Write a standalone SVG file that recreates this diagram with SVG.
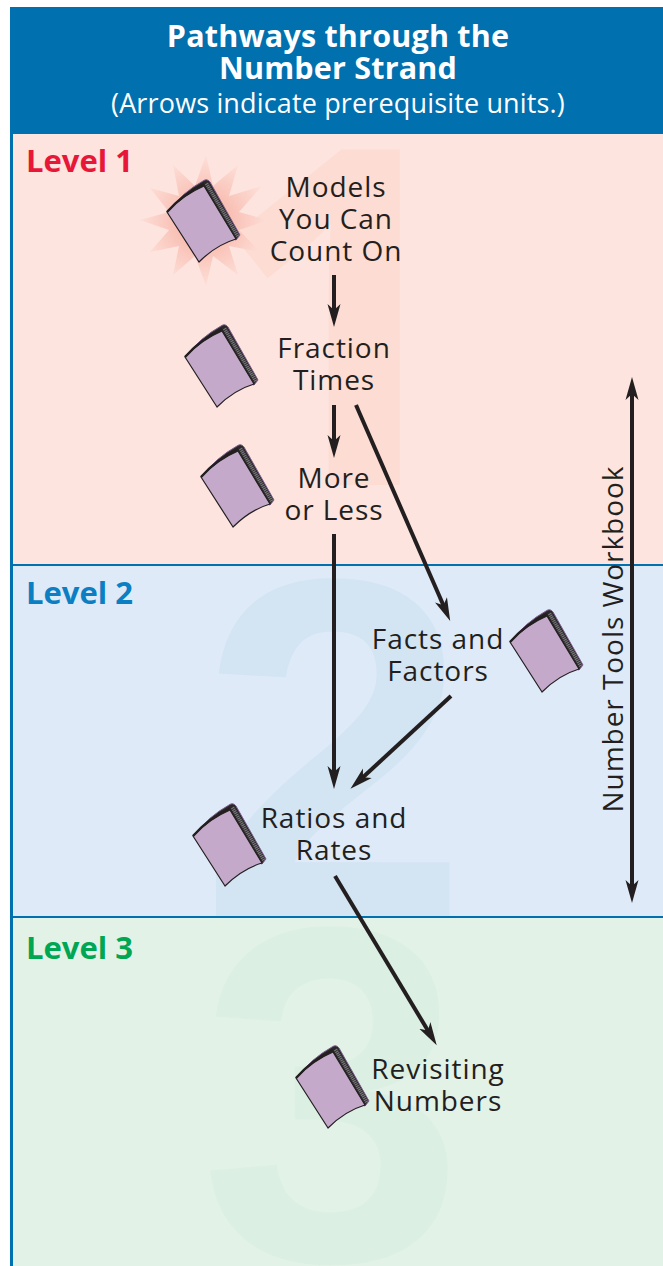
<svg xmlns="http://www.w3.org/2000/svg" width="663" height="1266" viewBox="0 0 663 1266">
<style>
.t{font-family:"Open Sans","Noto Sans","Liberation Sans",sans-serif;font-size:28px;fill:#231f20;text-anchor:middle;letter-spacing:.95px}
.h{font-family:"Open Sans","Noto Sans","Liberation Sans",sans-serif;fill:#fff;text-anchor:middle}
.l{font-family:"Open Sans","Noto Sans","Liberation Sans",sans-serif;font-size:31px;font-weight:700}
.w{font-family:"Liberation Sans",Arial,sans-serif;font-weight:700;text-anchor:middle}
.a{stroke:#231f20;stroke-width:4;fill:none;marker-end:url(#ah)}
</style>
<defs>
<marker id="ah" markerUnits="userSpaceOnUse" markerWidth="24" markerHeight="14" refX="10" refY="7" orient="auto-start-reverse" viewBox="0 0 24 14"><path d="M23,7L0,.5L6,7L0,13.5Z" fill="#231f20"/></marker>
<radialGradient id="burst" gradientUnits="userSpaceOnUse" cx="204" cy="221" r="66"><stop offset="0" stop-color="#f6a99b"/><stop offset="1" stop-color="#fde0d9"/></radialGradient>
<clipPath id="c1"><rect x="13" y="134" width="650" height="430"/></clipPath>
<clipPath id="c2"><rect x="13" y="566" width="650" height="350"/></clipPath>
<clipPath id="c3"><rect x="13" y="918" width="650" height="348"/></clipPath>
<g id="book">
<path d="M0,0Q16,-20 36,-31Q40,-34 43,-30L73,23L69,28Z" fill="#2b2829" stroke="#7f5f90" stroke-width="1" stroke-linejoin="round"/>
<path d="M39.500,-28.500L71,24.500" stroke="#77787b" stroke-width="3.600" stroke-dasharray="1.200 .8" fill="none"/>
<path d="M0,0Q16,-17 37,-26L69,27Q49,33 32,50Z" fill="#c4a9ca" stroke="#231f20" stroke-width="1.200" stroke-linejoin="round"/>
<path d="M0,0Q16,-18 37,-28" stroke="#231f20" stroke-width="2.400" fill="none"/>
</g>
</defs>
<rect width="663" height="1266" fill="#fff"/>
<rect x="10" y="7" width="653" height="1259" fill="#0070af"/>
<rect x="13" y="134" width="650" height="430" fill="#fde4de"/>
<rect x="13" y="566" width="650" height="350" fill="#deeaf7"/>
<rect x="13" y="918" width="650" height="348" fill="#e3f2e7"/>
<text x="340" y="485" fill="#fddcd3" clip-path="url(#c1)" font-family="'Open Sans','Noto Sans',sans-serif" font-weight="700" font-size="470" text-anchor="middle">1</text>
<text class="w" x="334" y="917" font-size="485" fill="#d3e4f3" clip-path="url(#c2)">2</text>
<text class="w" x="332" y="1260" font-size="478" fill="#dcefe3" clip-path="url(#c3)">3</text>
<g id="header">
<text class="h" x="338" y="47" font-size="30.500" font-weight="700" letter-spacing=".2">Pathways through the</text>
<text class="h" x="338" y="79" font-size="30.500" font-weight="700" letter-spacing=".2">Number Strand</text>
<text class="h" x="338" y="113" font-size="27" letter-spacing=".15">(Arrows indicate prerequisite units.)</text>
</g>
<text class="l" x="26" y="172" fill="#e8173a">Level 1</text>
<text class="l" x="26" y="604" fill="#0a7fc4">Level 2</text>
<text class="l" x="26" y="959" fill="#00a651">Level 3</text>
<polygon id="burst-star" fill="url(#burst)" points="206,155 213,186 238,165 229,196 262,186 239,212 268,220 239,230 260,252 229,246 238,275 213,256 206,286 195,256 173,275 179,246 150,252 169,230 140,220 169,212 150,188 179,196 173,165 195,186"/>
<g id="connectors">
<line class="a" x1="334" y1="275" x2="334" y2="314"/>
<line class="a" x1="334" y1="405" x2="334" y2="445"/>
<line class="a" x1="356" y1="405" x2="445" y2="609"/>
<line class="a" x1="334" y1="534" x2="334" y2="776"/>
<line class="a" x1="451" y1="696" x2="360" y2="780"/>
<line class="a" x1="335" y1="876" x2="430" y2="1034"/>
<line class="a" x1="632" y1="390" x2="632" y2="890" marker-start="url(#ah)"/>
</g>
<g id="n1"><use href="#book" x="167" y="212"/><text class="t" x="336" y="197">Models</text><text class="t" x="336" y="229">You Can</text><text class="t" x="336" y="261">Count On</text></g>
<g id="n2"><use href="#book" x="185" y="357"/><text class="t" x="334" y="358">Fraction</text><text class="t" x="334" y="390">Times</text></g>
<g id="n3"><use href="#book" x="201" y="477"/><text class="t" x="334" y="488">More</text><text class="t" x="334" y="520">or Less</text></g>
<g id="n4"><use href="#book" x="510" y="642"/><text class="t" x="438" y="649">Facts and</text><text class="t" x="438" y="681">Factors</text></g>
<g id="n5"><use href="#book" x="193" y="836"/><text class="t" x="334" y="828">Ratios and</text><text class="t" x="334" y="860">Rates</text></g>
<g id="n6"><use href="#book" x="296" y="1078"/><text class="t" x="438" y="1079">Revisiting</text><text class="t" x="438" y="1111">Numbers</text></g>
<g id="n7"><text class="t" transform="translate(623,639) rotate(-90)">Number Tools Workbook</text></g>
</svg>
